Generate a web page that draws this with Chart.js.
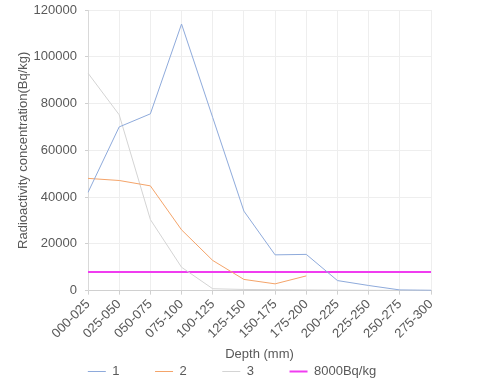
<!DOCTYPE html>
<html>
<head>
<meta charset="utf-8">
<script src="https://cdn.jsdelivr.net/npm/chart.js@4"></script>
<style>
  html, body { margin: 0; padding: 0; background: #fff; }
  #wrap { width: 480px; height: 380px; }
</style>
</head>
<body>
<div id="wrap"><canvas id="chart"></canvas></div>
<script>
// Datos
const depths = ["000-025", "025-050", "050-075", "075-100", "100-125", "125-150",
                "150-175", "175-200", "200-225", "225-250", "250-275", "275-300"];
const serie1 = [42000, 70000, 75600, 114000, 74000, 34000, 15300, 15500, 4300, 2200, 300, 150];
const serie2 = [48000, 47100, 44800, 26000, 12900, 4800, 2900, 6300, null, null, null, null];
const serie3 = [93000, 75200, 30400, 10000, 800, 500, 400, 300, 200, 150, 100, 100];
const limite = [8000, 8000, 8000, 8000, 8000, 8000, 8000, 8000, 8000, 8000, 8000, 8000];
const yTicks = [0, 20000, 40000, 60000, 80000, 100000, 120000];

const textColor = '#595959';
const font = { family: "'Liberation Sans', Arial, sans-serif", size: 13 };

function line(label, data, color, width) {
    return {
        label: label,
        data: data,
        borderColor: color,
        backgroundColor: color,
        borderWidth: width,
        pointRadius: 0,
        tension: 0,
        fill: false
    };
}

new Chart(document.getElementById('chart'), {
    type: 'line',
    data: {
        labels: depths,
        datasets: [
            line('1', serie1, '#8eaadb', 1),
            line('2', serie2, '#f4a46a', 1),
            line('3', serie3, '#d4d4d4', 1),
            line('8000Bq/kg', limite, '#f03cf0', 2)
        ]
    },
    options: {
        responsive: true,
        maintainAspectRatio: false,
        animation: false,
        layout: { padding: { top: 10, right: 16, bottom: -8, left: 0 } },
        plugins: {
            tooltip: { enabled: false },
            legend: {
                position: 'bottom',
                labels: {
                    color: textColor,
                    font: font,
                    usePointStyle: true,
                    pointStyle: 'line',
                    pointStyleWidth: 18,
                    padding: 3,
                    // espacio extra entre items, como en el original
                    generateLabels: (chart) => {
                        const items = Chart.defaults.plugins.legend.labels.generateLabels(chart);
                        items.forEach((it, i) => {
                            if (i < items.length - 1) it.text = it.text + '\u00a0'.repeat(9);
                        });
                        return items;
                    }
                }
            }
        },
        scales: {
            x: {
                grid: { color: '#eeeeee', tickLength: 4, tickColor: '#d0d0d0' },
                border: { color: '#d0d0d0' },
                ticks: { color: textColor, font: font, maxRotation: 45, minRotation: 45, padding: 2, autoSkip: false },
                title: { display: true, text: 'Depth (mm)', color: textColor, font: font, padding: { top: 3, bottom: 0 } }
            },
            y: {
                min: 0,
                max: 120000,
                afterBuildTicks: (scale) => { scale.ticks = yTicks.map(v => ({ value: v })); },
                afterFit: (scale) => { scale.width = 88; scale.paddingTop = 0; },
                grid: { color: '#eeeeee', tickLength: 3, tickColor: '#d0d0d0' },
                border: { color: '#d9d9d9' },
                ticks: { color: textColor, font: font, padding: 8, callback: (v) => String(v) },
                title: { display: true, text: 'Radioactivity concentration(Bq/kg)', color: textColor, font: font, padding: { top: 16, bottom: 3 } }
            },
            derecha: {
                position: 'right',
                display: true,
                grid: { display: false },
                border: { display: false },
                ticks: { display: false },
                afterFit: (scale) => { scale.width = 33; scale.paddingTop = 0; }
            }
        }
    }
});
</script>
</body>
</html>
